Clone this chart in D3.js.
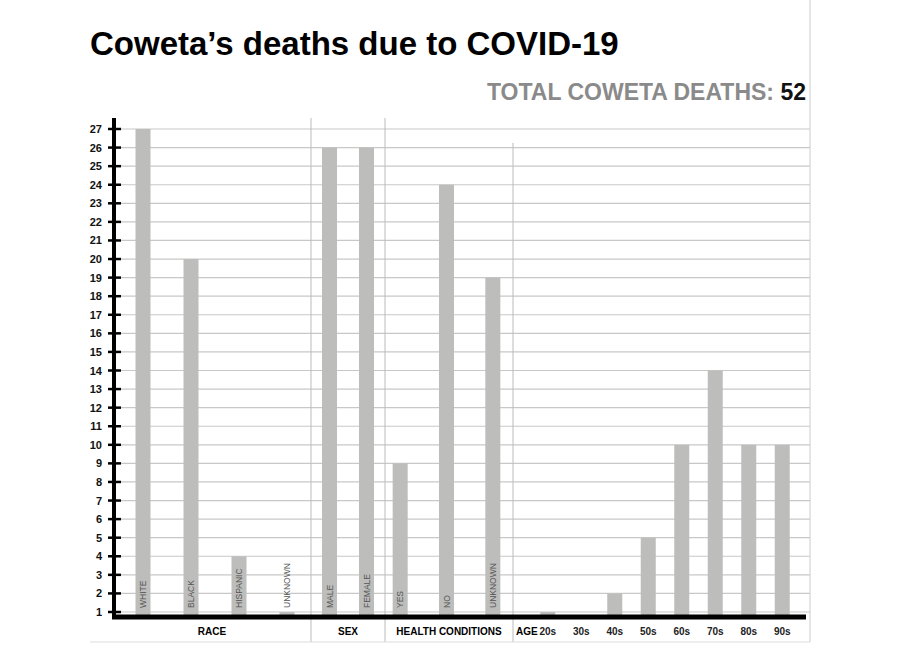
<!DOCTYPE html><html><head><meta charset="utf-8"><script src="https://cdn.jsdelivr.net/npm/d3@7"></script>
<style>body{margin:0;background:#fff}text{font-family:"Liberation Sans",Arial,sans-serif}</style></head><body><svg id="c" width="900" height="650"></svg><script>
const groups=["RACE","SEX","HEALTH CONDITIONS","AGE"];
const raceCats=["WHITE","BLACK","HISPANIC","UNKNOWN"], raceVals=[27,20,4,1];
const sexCats=["MALE","FEMALE"], sexVals=[26,26];
const healthCats=["YES","NO","UNKNOWN"], healthVals=[9,24,19];
const ageCats=["20s","30s","40s","50s","60s","70s","80s","90s"], ageVals=[1,0,2,5,10,14,10,10];
const yTicks=d3.range(1,28);
const svg=d3.select("#c");
const y=d3.scaleLinear().domain([1,27]).range([612,129]);
const base=617;
// gridlines
svg.append("g").selectAll("line").data(yTicks).join("line").attr("x1",114).attr("x2",810).attr("y1",d=>y(d)).attr("y2",d=>y(d)).attr("stroke","#c8c8c8").attr("stroke-width",1.2);
// separators
[[311,118],[385,118],[513,143]].forEach(([x,t])=>svg.append("line").attr("x1",x).attr("x2",x).attr("y1",t).attr("y2",642).attr("stroke","#bbb"));
svg.append("line").attr("x1",810).attr("x2",810).attr("y1",0).attr("y2",642).attr("stroke","#ccc");
svg.append("line").attr("x1",90).attr("x2",810).attr("y1",642).attr("y2",642).attr("stroke","#ddd");
const specs=[
 {cats:raceCats,vals:raceVals,r:[119,311],label:true,gl:[114,311]},
 {cats:sexCats,vals:sexVals,r:[311,385],label:true,gl:[311,385]},
 {cats:healthCats,vals:healthVals,r:[377,516],label:true,gl:[385,513]},
 {cats:ageCats,vals:ageVals,r:[531,799],label:false,gl:[513,800]}];
specs.forEach((s,gi)=>{
 const x=d3.scaleBand().domain(s.cats).range(s.r).paddingInner(0.3).paddingOuter(0.15);
 const bw=15;
 const g=svg.append("g");
 s.cats.forEach((c,i)=>{
  const cx=x(c)+x.bandwidth()/2;
  if(s.vals[i]>0) g.append("rect").attr("x",cx-bw/2).attr("width",bw).attr("y",y(s.vals[i])).attr("height",base-y(s.vals[i])).attr("fill","#bdbdbb");
  if(s.label) g.append("text").attr("transform",`translate(${cx+3},${608}) rotate(-90)`).attr("font-size",8.5).attr("fill","#555").text(c);
  else g.append("text").attr("x",cx).attr("y",635).attr("text-anchor","middle").attr("font-size",10).attr("font-weight","bold").attr("fill","#222").text(c);
 });
});
// group labels
svg.append("text").attr("x",212).attr("y",635).attr("text-anchor","middle").attr("font-size",10).attr("font-weight","bold").text(groups[0]);
svg.append("text").attr("x",348).attr("y",635).attr("text-anchor","middle").attr("font-size",10).attr("font-weight","bold").text(groups[1]);
svg.append("text").attr("x",449).attr("y",635).attr("text-anchor","middle").attr("font-size",10).attr("font-weight","bold").text(groups[2]);
svg.append("text").attr("x",516).attr("y",635).attr("font-size",10).attr("font-weight","bold").text(groups[3]);
// axis
const ax=svg.append("g").attr("transform","translate(114,0)").call(d3.axisLeft(y).tickValues(yTicks).tickSize(0).tickPadding(12));
ax.select(".domain").remove();
ax.selectAll("text").attr("font-size",11).attr("font-weight","bold").attr("fill","#111");
svg.append("g").selectAll("line").data(yTicks).join("line").attr("x1",108).attr("x2",121).attr("y1",d=>y(d)).attr("y2",d=>y(d)).attr("stroke","#000").attr("stroke-width",2.5);
svg.append("line").attr("x1",114).attr("x2",114).attr("y1",118).attr("y2",619).attr("stroke","#000").attr("stroke-width",4);
svg.append("line").attr("x1",112).attr("x2",806).attr("y1",617).attr("y2",617).attr("stroke","#000").attr("stroke-width",5);
// titles
svg.append("text").attr("x",90).attr("y",55).attr("font-size",33).attr("font-weight","bold").attr("fill","#000").text("Coweta’s deaths due to COVID-19");
const st=svg.append("text").attr("x",806).attr("y",100).attr("text-anchor","end").attr("font-size",23).attr("font-weight","bold");
st.append("tspan").attr("fill","#8a8a8a").text("TOTAL COWETA DEATHS: ");
st.append("tspan").attr("fill","#111").text("52");
</script></body></html>
